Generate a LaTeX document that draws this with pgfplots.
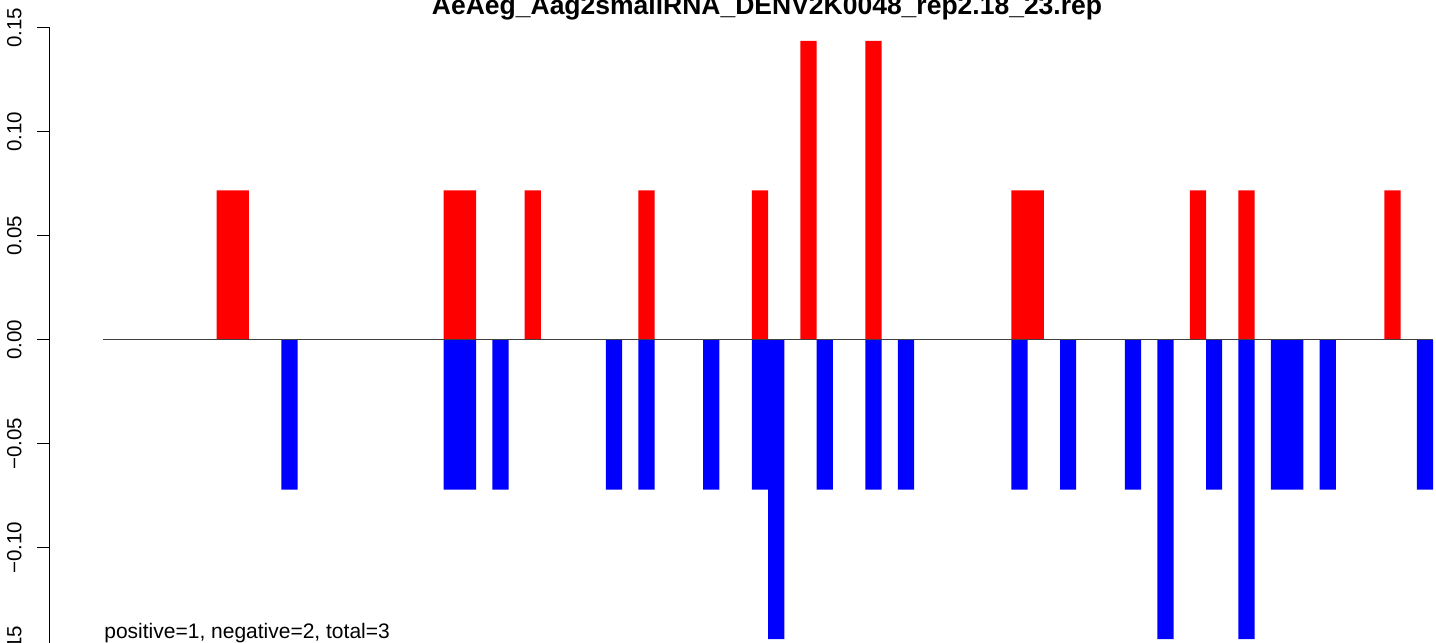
\documentclass[border=0pt]{standalone}
\usepackage{fontspec}
\setmainfont{Liberation Sans}
\usepackage{pgfplots}
\pgfplotsset{compat=1.18}
\begin{document}
\begin{tikzpicture}
\begin{axis}[
  scale only axis, width=693pt, height=312pt,
  xmin=-3.268, xmax=82.18, ymin=-0.15, ymax=0.15,
  clip=false,
  axis x line=none, axis y line*=left,
  axis line style={line width=0.5pt, black},
  ytick={-0.15,-0.1,-0.05,0,0.05,0.1,0.15},
  yticklabels={−0.15,−0.10,−0.05,0.00,0.05,0.10,0.15},
  tick align=outside, major tick length=6.5pt,
  every tick/.style={black, line width=0.5pt},
  yticklabel style={rotate=90, anchor=south, inner sep=0pt, font=\fontsize{10.25}{12}\selectfont},
  yticklabel shift=7.5pt,
]
\addplot[ybar, bar width=1, bar shift=0, fill=red, draw=none] coordinates {
(7.5,0.0719) (8.5,0.0719) (21.5,0.0719) (22.5,0.0719) (26.5,0.0719) (33.5,0.0719)
(40.5,0.0719) (43.5,0.1438) (47.5,0.1438) (56.5,0.0719) (57.5,0.0719) (67.5,0.0719)
(70.5,0.0719) (79.5,0.0719)};
\addplot[ybar, bar width=1, bar shift=0, fill=blue, draw=none] coordinates {
(11.5,-0.0719) (21.5,-0.0719) (22.5,-0.0719) (24.5,-0.0719) (31.5,-0.0719) (33.5,-0.0719)
(37.5,-0.0719) (40.5,-0.0719) (41.5,-0.1438) (44.5,-0.0719) (47.5,-0.0719) (49.5,-0.0719)
(56.5,-0.0719) (59.5,-0.0719) (63.5,-0.0719) (65.5,-0.1438) (68.5,-0.0719) (70.5,-0.1438)
(72.5,-0.0719) (73.5,-0.0719) (75.5,-0.0719) (81.5,-0.0719)};
\addplot[black!75, line width=0.5pt] coordinates {(0,0) (82,0)};
\node[anchor=base, inner sep=0pt, font=\fontsize{13.25}{15}\selectfont\bfseries] at (axis cs:40.94,0.15649) {AeAeg\_Aag2smallRNA\_DENV2K0048\_rep2.18\_23.rep};
\node[anchor=base west, inner sep=0pt, font=\fontsize{10.5}{12}\selectfont] at (axis cs:0.06,-0.14375) {positive=1, negative=2, total=3};
\coordinate (bl) at (axis cs:-6.35,-0.14567);
\coordinate (tr) at (axis cs:82.18,0.16346);
\end{axis}
\pgfresetboundingbox
\path[use as bounding box] (bl) rectangle (tr);
\end{tikzpicture}
\end{document}
